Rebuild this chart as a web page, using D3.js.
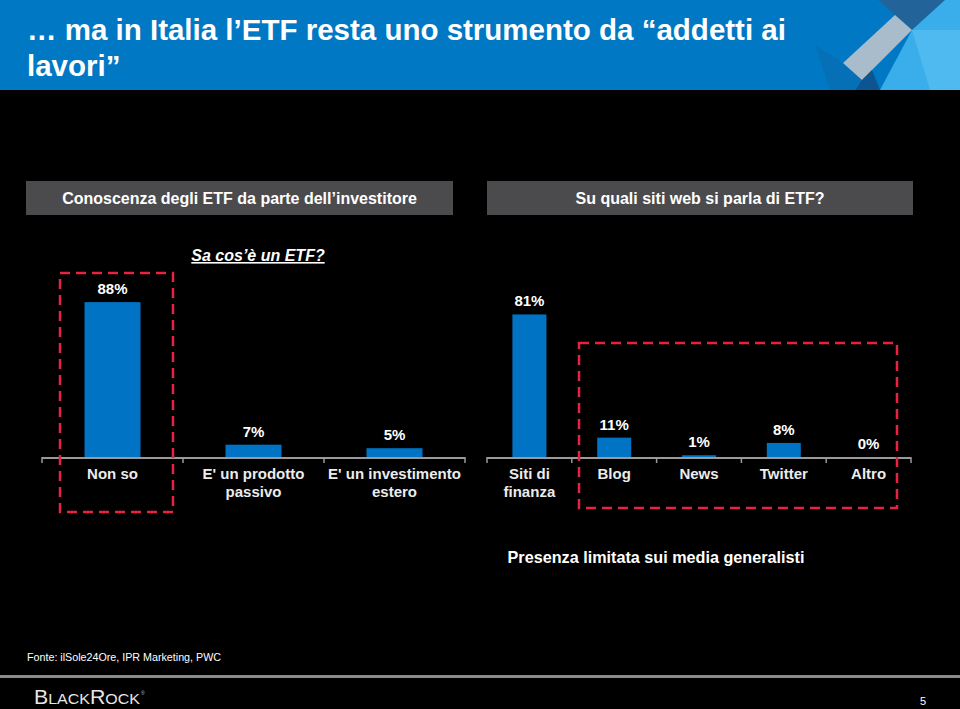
<!DOCTYPE html>
<html><head><meta charset="utf-8">
<script src="https://cdn.jsdelivr.net/npm/d3@7/dist/d3.min.js"></script>
<style>body{margin:0;background:#000;}svg{display:block;}</style>
</head><body>
<script>
const leftCategories = [["Non so"], ["E' un prodotto", "passivo"], ["E' un investimento", "estero"]];
const leftValues = [88, 7, 5];
const rightCategories = [["Siti di", "finanza"], ["Blog"], ["News"], ["Twitter"], ["Altro"]];
const rightValues = [81, 11, 1, 8, 0];
const titleLines = ["\u2026 ma in Italia l\u2019ETF resta uno strumento da \u201caddetti ai", "lavori\u201d"];
const leftHeader = "Conoscenza degli ETF da parte dell\u2019investitore";
const rightHeader = "Su quali siti web si parla di ETF?";
const subTitle = "Sa cos\u2019\u00e8 un ETF?";
const note = "Presenza limitata sui media generalisti";
const source = "Fonte: ilSole24Ore, IPR Marketing, PWC";

const W = 960, H = 709;
const svg = d3.select("body").append("svg").attr("width", W).attr("height", H);
const F = "'Liberation Sans', Arial, sans-serif";

svg.append("rect").attr("width", W).attr("height", H).attr("fill", "#000");
// header band
svg.append("rect").attr("x", 0).attr("y", 0).attr("width", W).attr("height", 90).attr("fill", "#0078c4");
// decoration
const deco = svg.append("g");
deco.append("polygon").attr("points", "815,45 843,63 862,80 852,90 830,90").attr("fill", "#0a68a8").attr("opacity", 0.5);
deco.append("polygon").attr("points", "878,0 945,0 912,30 895,15").attr("fill", "#22649a");
deco.append("polygon").attr("points", "945,0 960,0 960,90 880,90 912,30").attr("fill", "#3aaeea");
deco.append("polygon").attr("points", "912,30 960,30 960,90 930,90").attr("fill", "#5ec2f2").attr("opacity", 0.6);
deco.append("polygon").attr("points", "843,63 895,15 912,30 862,80").attr("fill", "#a8bccb");
deco.append("polygon").attr("points", "862,80 872,70 880,90 855,90").attr("fill", "#14447a").attr("opacity", 0.7);

const tt = svg.append("text").attr("font-family", F).attr("font-weight", "bold").attr("font-size", 29.5).attr("fill", "#fff");
titleLines.forEach((l, i) => tt.append("tspan").attr("x", 27).attr("y", 40 + i * 36).text(l));

// header boxes
[[26, 453, leftHeader], [487, 913, rightHeader]].forEach(([x0, x1, t]) => {
  svg.append("rect").attr("x", x0).attr("y", 181).attr("width", x1 - x0).attr("height", 34).attr("fill", "#4b4b4d");
  svg.append("text").attr("x", (x0 + x1) / 2).attr("y", 204).attr("text-anchor", "middle")
    .attr("font-family", F).attr("font-weight", "bold").attr("font-size", 16).attr("fill", "#fff").text(t);
});

// subtitle
svg.append("text").attr("x", 258).attr("y", 261).attr("text-anchor", "middle").attr("font-family", F)
  .attr("font-weight", "bold").attr("font-style", "italic").attr("font-size", 16).attr("fill", "#fff")
  .attr("text-decoration", "underline").text(subTitle);

const baseY = 457;
const y = d3.scaleLinear().domain([0, 100]).range([baseY, baseY - 176]);

function drawChart(cats, vals, x0, x1, barW) {
  const x = d3.scaleBand().domain(d3.range(cats.length)).range([x0, x1]).paddingInner(0).paddingOuter(0);
  const g = svg.append("g");
  g.selectAll("rect.bar").data(vals).join("rect").attr("class", "bar")
    .attr("x", (d, i) => x(i) + x.bandwidth() / 2 - barW / 2)
    .attr("y", d => y(d)).attr("width", barW).attr("height", d => baseY - y(d))
    .attr("fill", "#0073c4");
  g.selectAll("text.val").data(vals).join("text").attr("class", "val")
    .attr("x", (d, i) => x(i) + x.bandwidth() / 2).attr("y", d => y(d) - 8)
    .attr("text-anchor", "middle").attr("font-family", F).attr("font-weight", "bold").attr("font-size", 15)
    .attr("fill", "#fff").text(d => d + "%");
  // axis
  g.append("line").attr("x1", x0).attr("x2", x1).attr("y1", baseY + 1).attr("y2", baseY + 1)
    .attr("stroke", "#9a9a9a").attr("stroke-width", 2);
  d3.range(cats.length + 1).forEach(i => {
    const xx = i < cats.length ? x(i) : x1;
    g.append("line").attr("x1", xx).attr("x2", xx).attr("y1", baseY).attr("y2", baseY + 6)
      .attr("stroke", "#9a9a9a").attr("stroke-width", 1.5);
  });
  cats.forEach((lines, i) => {
    const t = g.append("text").attr("text-anchor", "middle").attr("font-family", F).attr("font-weight", "bold")
      .attr("font-size", 15).attr("fill", "#ececec");
    lines.forEach((l, j) => t.append("tspan").attr("x", x(i) + x.bandwidth() / 2).attr("y", 479 + j * 18).text(l));
  });
}
drawChart(leftCategories, leftValues, 42, 465, 56);
drawChart(rightCategories, rightValues, 487, 911, 34);

// red dashed boxes
[[60, 273, 173, 512], [579, 343, 897, 508]].forEach(([a, b, c, d]) => {
  svg.append("rect").attr("x", a).attr("y", b).attr("width", c - a).attr("height", d - b)
    .attr("fill", "none").attr("stroke", "#e8233d").attr("stroke-width", 2.5).attr("stroke-dasharray", "10,6");
});

svg.append("text").attr("x", 656).attr("y", 563).attr("text-anchor", "middle").attr("font-family", F)
  .attr("font-weight", "bold").attr("font-size", 16.2).attr("fill", "#fff").text(note);

svg.append("text").attr("x", 27).attr("y", 661).attr("font-family", F).attr("font-size", 10.7).attr("fill", "#fff")
  .attr("textLength", 194).attr("lengthAdjust", "spacingAndGlyphs").text(source);
svg.append("rect").attr("x", 0).attr("y", 675).attr("width", W).attr("height", 3).attr("fill", "#8a8a8a");

const logo = svg.append("text").attr("x", 34).attr("y", 704).attr("font-family", F).attr("fill", "#e6e6e6")
  .attr("textLength", 106).attr("lengthAdjust", "spacingAndGlyphs");
logo.append("tspan").attr("font-size", 20).text("B");
logo.append("tspan").attr("font-size", 15).text("LACK");
logo.append("tspan").attr("font-size", 20).text("R");
logo.append("tspan").attr("font-size", 15).text("OCK");
svg.append("text").attr("x", 141).attr("y", 695).attr("font-family", F).attr("font-size", 5).attr("fill", "#bbb").text("\u00ae");
svg.append("text").attr("x", 920).attr("y", 705).attr("font-family", F).attr("font-size", 11).attr("fill", "#fff").text("5");
</script>
</body></html>
